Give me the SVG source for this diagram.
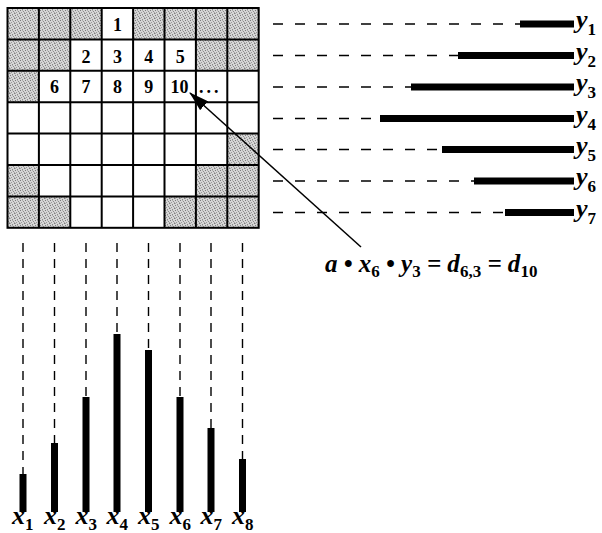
<svg xmlns="http://www.w3.org/2000/svg" width="602" height="533" viewBox="0 0 602 533">
<style>
.num{font-family:"Liberation Serif","Times New Roman",serif;font-weight:bold;font-size:18px;text-anchor:middle;fill:#000}
.lab{font-family:"Liberation Serif","Times New Roman",serif;font-weight:bold;font-style:italic;font-size:26px;fill:#000}
.sub{font-size:17px;font-style:normal}
.sh{fill:url(#dots)}
.grid{stroke:#000;stroke-width:2;fill:none}
.hd{stroke:#000;stroke-width:1.4;stroke-dasharray:10 12}
.vd{stroke:#000;stroke-width:1.4;stroke-dasharray:9 7}
.bar{fill:#000}
</style>
<defs>
<pattern id="dots" width="5" height="5" patternUnits="userSpaceOnUse">
<rect width="5" height="5" fill="#d6d6d6"/>
<rect x="0" y="0" width="1" height="1" fill="#7a7a7a"/>
<rect x="3" y="1" width="1" height="1" fill="#8c8c8c"/>
<rect x="1" y="2" width="1" height="1" fill="#999"/>
<rect x="4" y="3" width="1" height="1" fill="#808080"/>
<rect x="2" y="4" width="1" height="1" fill="#8a8a8a"/>
<rect x="2" y="0" width="1" height="1" fill="#b0b0b0"/>
<rect x="4" y="2" width="1" height="1" fill="#a8a8a8"/>
<rect x="0" y="3" width="1" height="1" fill="#aaa"/>
</pattern>
<marker id="ah" markerWidth="20" markerHeight="12" refX="19" refY="6" orient="auto" markerUnits="userSpaceOnUse">
<path d="M0,0 L20,6 L0,12 Z" fill="#000"/>
</marker>
</defs>
<rect width="602" height="533" fill="#fff"/>

<g id="matrix">
<rect x="7.5" y="8" width="251.2" height="219.8" fill="#fff"/>
<g id="shaded">
<rect class="sh" x="7.5" y="8" width="94.2" height="31.4"/>
<rect class="sh" x="133.1" y="8" width="125.6" height="31.4"/>
<rect class="sh" x="7.5" y="39.4" width="62.8" height="31.4"/>
<rect class="sh" x="195.9" y="39.4" width="62.8" height="31.4"/>
<rect class="sh" x="7.5" y="70.8" width="31.4" height="31.4"/>
<rect class="sh" x="227.3" y="133.6" width="31.4" height="31.4"/>
<rect class="sh" x="7.5" y="165" width="31.4" height="31.4"/>
<rect class="sh" x="195.9" y="165" width="62.8" height="31.4"/>
<rect class="sh" x="7.5" y="196.4" width="62.8" height="31.4"/>
<rect class="sh" x="164.5" y="196.4" width="94.2" height="31.4"/>
</g>
<g class="grid">
<rect x="7.5" y="8" width="251.2" height="219.8"/>
<path d="M38.9,8V227.8M70.3,8V227.8M101.7,8V227.8M133.1,8V227.8M164.5,8V227.8M195.9,8V227.8M227.3,8V227.8"/>
<path d="M7.5,39.4H258.7M7.5,70.8H258.7M7.5,102.2H258.7M7.5,133.6H258.7M7.5,165H258.7M7.5,196.4H258.7"/>
</g>
<g id="numbers">
<text class="num" x="117.4" y="31">1</text>
<text class="num" x="86" y="62.5">2</text>
<text class="num" x="117.4" y="62.5">3</text>
<text class="num" x="148.8" y="62.5">4</text>
<text class="num" x="180.2" y="62.5">5</text>
<text class="num" x="54.6" y="93">6</text>
<text class="num" x="86" y="93">7</text>
<text class="num" x="117.4" y="93">8</text>
<text class="num" x="148.8" y="93">9</text>
<text class="num" x="179.5" y="93">10</text>
<text class="num" x="199" y="93" style="text-anchor:start;letter-spacing:3px">...</text>
</g>
</g>

<g id="connectors">
<path class="hd" d="M273,24H520M273,55.5H458M273,87H411M273,118.5H380M273,149.5H442M273,181H474M273,212.5H505"/>
<path class="vd" d="M23,243V474M54.5,243V443M86,243V397M117,243V334M148.5,243V350M180,243V397M211,243V428M242.5,243V459"/>
<line x1="361" y1="247" x2="190" y2="93" stroke="#000" stroke-width="1.5" marker-end="url(#ah)"/>
</g>

<g id="y-profile">
<rect class="bar" x="520" y="20.5" width="54" height="7"/>
<rect class="bar" x="458" y="52" width="116" height="7"/>
<rect class="bar" x="411" y="83.5" width="163" height="7"/>
<rect class="bar" x="380" y="115" width="194" height="7"/>
<rect class="bar" x="442" y="146" width="132" height="7"/>
<rect class="bar" x="474" y="177.5" width="100" height="7"/>
<rect class="bar" x="505" y="209" width="69" height="7"/>
<text class="lab" x="576" y="28">y<tspan class="sub" dy="7">1</tspan></text>
<text class="lab" x="576" y="59.5">y<tspan class="sub" dy="7">2</tspan></text>
<text class="lab" x="576" y="91">y<tspan class="sub" dy="7">3</tspan></text>
<text class="lab" x="576" y="122.5">y<tspan class="sub" dy="7">4</tspan></text>
<text class="lab" x="576" y="153.5">y<tspan class="sub" dy="7">5</tspan></text>
<text class="lab" x="576" y="185">y<tspan class="sub" dy="7">6</tspan></text>
<text class="lab" x="576" y="216.5">y<tspan class="sub" dy="7">7</tspan></text>
</g>

<g id="x-profile">
<rect class="bar" x="19.5" y="474" width="7" height="38"/>
<rect class="bar" x="51" y="443" width="7" height="69"/>
<rect class="bar" x="82.5" y="397" width="7" height="115"/>
<rect class="bar" x="113.5" y="334" width="7" height="178"/>
<rect class="bar" x="145" y="350" width="7" height="162"/>
<rect class="bar" x="176.5" y="397" width="7" height="115"/>
<rect class="bar" x="207.5" y="428" width="7" height="84"/>
<rect class="bar" x="239" y="459" width="7" height="53"/>
<text class="lab" x="12" y="523.5">x<tspan class="sub" dy="6">1</tspan></text>
<text class="lab" x="44" y="523.5">x<tspan class="sub" dy="6">2</tspan></text>
<text class="lab" x="75.5" y="523.5">x<tspan class="sub" dy="6">3</tspan></text>
<text class="lab" x="106.5" y="523.5">x<tspan class="sub" dy="6">4</tspan></text>
<text class="lab" x="138" y="523.5">x<tspan class="sub" dy="6">5</tspan></text>
<text class="lab" x="169.5" y="523.5">x<tspan class="sub" dy="6">6</tspan></text>
<text class="lab" x="200.5" y="523.5">x<tspan class="sub" dy="6">7</tspan></text>
<text class="lab" x="232" y="523.5">x<tspan class="sub" dy="6">8</tspan></text>
</g>

<g id="equation">
<text class="lab" x="325" y="272" style="font-size:25px">a • x<tspan class="sub" dy="5">6</tspan><tspan dy="-5"> • y</tspan><tspan class="sub" dy="5">3</tspan><tspan dy="-5"> = d</tspan><tspan class="sub" dy="5">6,3</tspan><tspan dy="-5"> = d</tspan><tspan class="sub" dy="5">10</tspan></text>
</g>
</svg>
